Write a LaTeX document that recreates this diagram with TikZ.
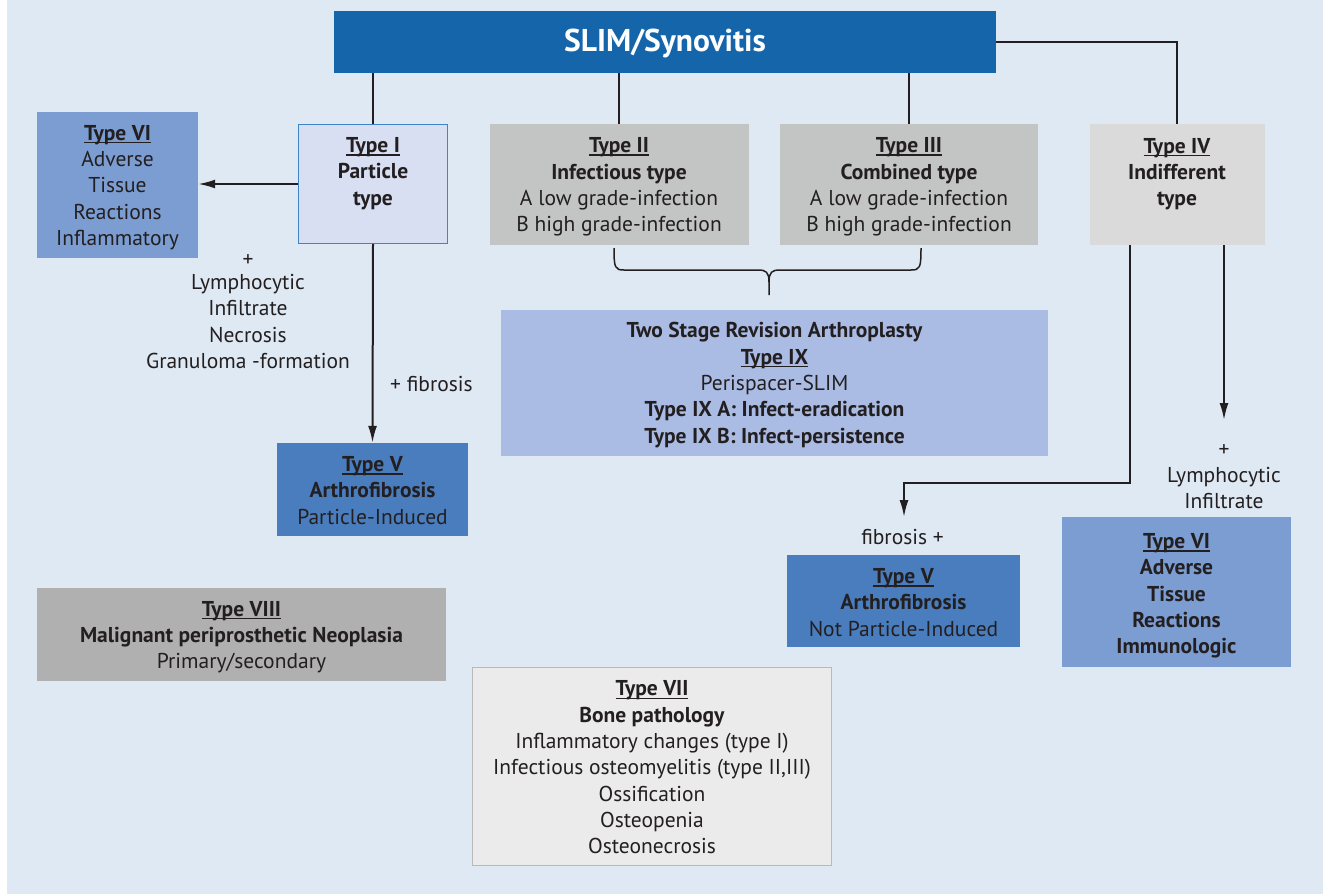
\documentclass[tikz,border=0pt]{standalone}
\usepackage{fontspec}
\setmainfont{PT Sans}
\usetikzlibrary{arrows.meta}
\definecolor{bg}{RGB}{223,233,243}
\definecolor{txt}{RGB}{35,31,32}
\definecolor{slimblue}{RGB}{21,101,171}
\definecolor{tIfill}{RGB}{216,223,243}
\definecolor{tIborder}{RGB}{61,133,198}
\definecolor{greyA}{RGB}{195,196,196}
\definecolor{greyB}{RGB}{218,218,218}
\definecolor{greyC}{RGB}{176,176,176}
\definecolor{greyD}{RGB}{235,235,235}
\definecolor{greyDb}{RGB}{185,185,185}
\definecolor{blueVI}{RGB}{123,157,210}
\definecolor{blueV}{RGB}{73,125,189}
\definecolor{blueIX}{RGB}{170,188,228}
\newcommand{\uln}[1]{\setbox0\hbox{#1}\rlap{\rule[-3pt]{\wd0}{1.4pt}}\box0}
\newcommand{\tp}[1]{\rule{0pt}{#1pt}}
\begin{document}
\begin{tikzpicture}[x=1pt,y=-1pt,
  box/.style={rectangle, inner sep=0pt, align=center, text=txt, font=\fontsize{21.5}{26.3}\selectfont},
  lbl/.style={inner sep=0pt, align=center, text=txt, font=\fontsize{21.5}{26.3}\selectfont},
  conn/.style={line width=2pt, draw=txt},
  bracestyle/.style={line width=1.5pt, draw=txt},
  arr/.style={conn, -{Latex[length=17pt,width=9pt]}}]
\useasboundingbox (0,0) rectangle (1323,894);
\fill[white] (0,0) rectangle (1323,894);
\fill[bg] (7,0) rectangle (1323,894);

% top
\node[box, fill=slimblue, minimum width=662pt, minimum height=62pt, text=white, font=\fontsize{31.5}{36}\selectfont\bfseries] (slim) at (665,42) {\tp{26}SLIM/Synovitis};

% second row
\node[box, fill=tIfill, draw=tIborder, line width=1.3pt, minimum width=149pt, minimum height=119pt] (t1) at (373,184)
  {\tp{24}\uln{\textbf{Type I}}\\\textbf{Particle}\\\textbf{type}\\\strut};
\node[box, fill=greyA, minimum width=259pt, minimum height=121pt] (t2) at (619,184.5)
  {\tp{20}\uln{\textbf{Type II}}\\\textbf{Infectious type}\\A low grade-infection\\B high grade-infection};
\node[box, fill=greyA, minimum width=258pt, minimum height=121pt] (t3) at (909,184.5)
  {\tp{20}\uln{\textbf{Type III}}\\\textbf{Combined type}\\A low grade-infection\\B high grade-infection};
\node[box, fill=greyB, minimum width=175pt, minimum height=121pt] (t4) at (1177,184.5)
  {\tp{24}\uln{\textbf{Type IV}}\\\textbf{Indifferent}\\\textbf{type}\\\strut};

\node[box, fill=blueVI, minimum width=161pt, minimum height=146pt] (t6l) at (117.5,185)
  {\tp{20}\uln{\textbf{Type VI}}\\Adverse\\Tissue\\Reactions\\Inflammatory};

\node[box, fill=blueV, minimum width=191pt, minimum height=93pt] (t5l) at (372.5,489.5)
  {\tp{17}\uln{\textbf{Type V}}\\\textbf{Arthrofibrosis}\\Particle-Induced};

\node[box, fill=blueIX, minimum width=547pt, minimum height=146pt] (t9) at (774.5,383)
  {\tp{19.5}\textbf{Two Stage Revision Arthroplasty}\\\uln{\textbf{Type IX}}\\Perispacer-SLIM\\\textbf{Type IX A: Infect-eradication}\\\textbf{Type IX B: Infect-persistence}};

\node[box, fill=greyC, minimum width=409pt, minimum height=93pt] (t8) at (241.5,634.5)
  {\tp{20}\uln{\textbf{Type VIII}}\\\textbf{Malignant periprosthetic Neoplasia}\\Primary/secondary};

\node[box, fill=greyD, draw=greyDb, line width=1.3pt, minimum width=359pt, minimum height=198pt] (t7) at (652,766.5)
  {\tp{17}\uln{\textbf{Type VII}}\\\textbf{Bone pathology}\\Inflammatory changes (type I)\\Infectious osteomyelitis (type II,III)\\Ossification\\Osteopenia\\Osteonecrosis};

\node[box, fill=blueV, minimum width=233pt, minimum height=92pt] (t5r) at (903.5,601)
  {\tp{18}\uln{\textbf{Type V}}\\\textbf{Arthrofibrosis}\\Not Particle-Induced};

\node[box, fill=blueVI, minimum width=229pt, minimum height=150pt] (t6r) at (1176.5,592)
  {\tp{23}\uln{\textbf{Type VI}}\\\textbf{Adverse}\\\textbf{Tissue}\\\textbf{Reactions}\\\textbf{Immunologic}};

% labels
\node[lbl] (lab1) at (248,311.5) {\raisebox{-3pt}{+}\\Lymphocytic\\Infiltrate\\Necrosis\\Granuloma -formation};
\node[lbl] (lab2) at (431.5,384) {+ fibrosis};
\node[lbl] (lab3) at (902.5,537) {fibrosis +};
\node[lbl] (lab4) at (1224,476.5) {+\\Lymphocytic\\Infiltrate};

% connectors
\draw[conn] (t1.north) -- (t1.north |- slim.south);
\draw[conn] (t2.north) -- (t2.north |- slim.south);
\draw[conn] (t3.north) -- (t3.north |- slim.south);
\draw[conn] (slim.east) -| (t4.north);
\draw[arr] (t1.west) -- (t1.west -| t6l.east);
\draw[arr] (t1.south) -- (t5l.north);

\coordinate (bendA) at (1130,483);
\coordinate (fibtip) at (904,517);
\draw[arr] (t4.south -| bendA) -- (bendA) -| (fibtip);
\coordinate (lymtip) at (1224,420);
\draw[arr] (t4.south -| lymtip) -- (lymtip);

% brace
\coordinate (bl) at (614,248);
\coordinate (br) at (921,248);
\coordinate (bm) at (769,295);
\draw[bracestyle] (bl) .. controls (614,268) and (615,270) .. (624,270) -- (758,270) .. controls (766,270) and (769,272) .. (769,282) -- (bm);
\draw[bracestyle] (br) .. controls (921,268) and (920,270) .. (911,270) -- (780,270) .. controls (772,270) and (769,272) .. (769,282);
\end{tikzpicture}
\end{document}
